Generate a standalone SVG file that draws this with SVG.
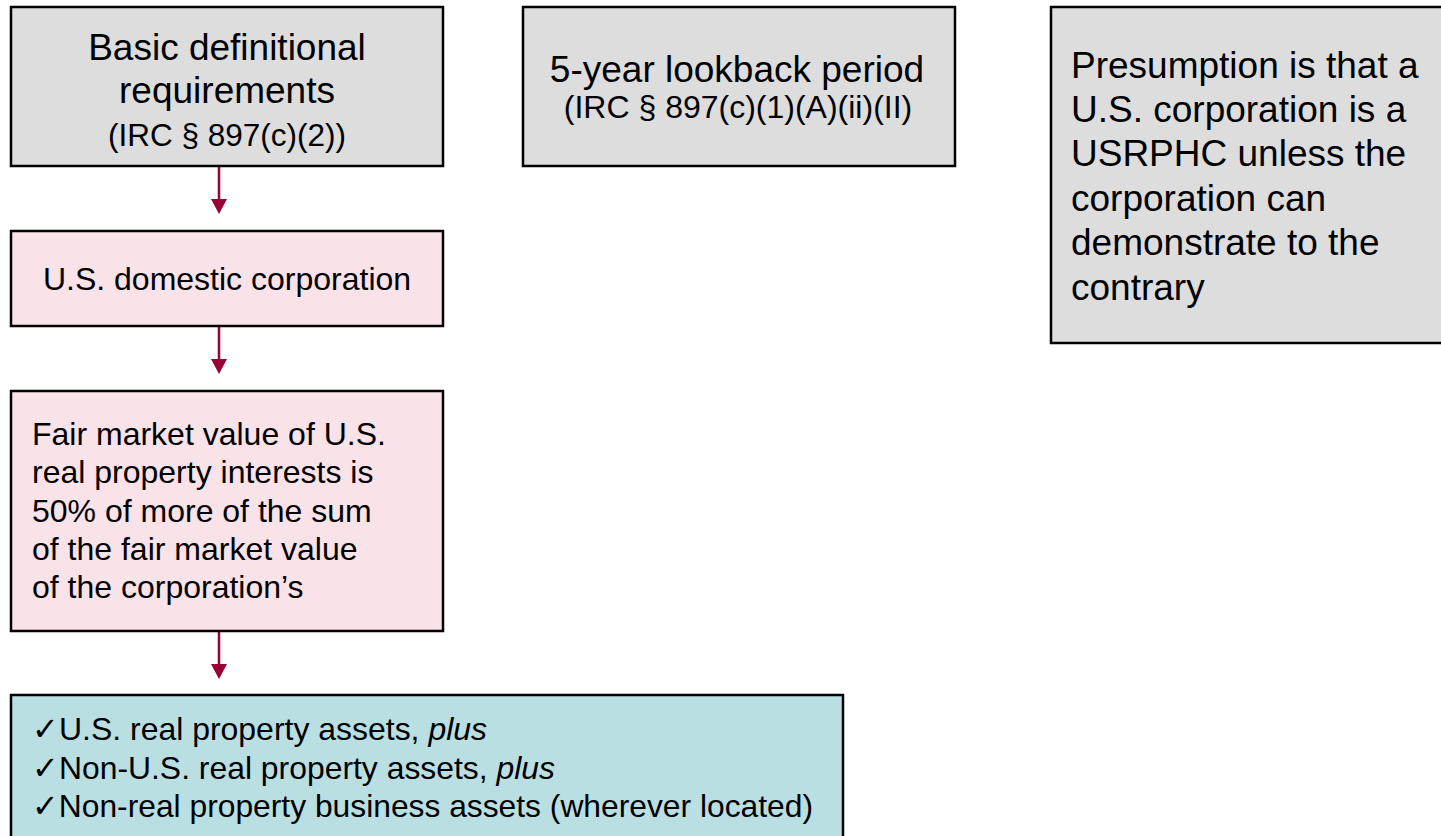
<svg xmlns="http://www.w3.org/2000/svg" width="1441" height="836" viewBox="0 0 1441 836">
<defs>
<style>
.box{stroke:#000;stroke-width:2.5}
.gray{fill:#dddddd}
.pink{fill:#f9e2e8}
.teal{fill:#badfe3}
text{font-family:"Liberation Sans",Arial,sans-serif;fill:#000}
.big{font-size:32px}
.title{font-size:37px}
.small{font-size:32px}
.mid{text-anchor:middle}
.conn{stroke:#990033;stroke-width:2.5;fill:none}
</style>
</defs>
<rect width="1441" height="836" fill="#ffffff"/>
<g id="connectors">
<line class="conn" x1="219" y1="167" x2="219" y2="201"/>
<path d="M211,199 L227,199 L219,214 Z" fill="#990033"/>
<line class="conn" x1="219" y1="327" x2="219" y2="361"/>
<path d="M211,359 L227,359 L219,374 Z" fill="#990033"/>
<line class="conn" x1="219" y1="632" x2="219" y2="666"/>
<path d="M211,664 L227,664 L219,679 Z" fill="#990033"/>
</g>
<g id="basic">
<rect class="box gray" x="11" y="7" width="432" height="159"/>
<text class="title mid" x="227" y="60">Basic definitional</text>
<text class="title mid" x="227" y="103">requirements</text>
<text class="small mid" x="227" y="146" style="font-size:31.5px">(IRC § 897(c)(2))</text>
</g>
<g id="lookback">
<rect class="box gray" x="523" y="7" width="432" height="159"/>
<text class="title mid" x="737" y="82">5-year lookback period</text>
<text class="small mid" x="738" y="118">(IRC § 897(c)(1)(A)(ii)(II)</text>
</g>
<g id="presumption">
<rect class="box gray" x="1051" y="7" width="392" height="336"/>
<text class="title" x="1071" y="78">Presumption is that a</text>
<text class="title" x="1071" y="122">U.S. corporation is a</text>
<text class="title" x="1071" y="166">USRPHC unless the</text>
<text class="title" x="1071" y="211">corporation can</text>
<text class="title" x="1071" y="255">demonstrate to the</text>
<text class="title" x="1071" y="300">contrary</text>
</g>
<g id="domestic">
<rect class="box pink" x="11" y="231" width="432" height="95"/>
<text class="big mid" x="227" y="290">U.S. domestic corporation</text>
</g>
<g id="fmv">
<rect class="box pink" x="11" y="391" width="432" height="240"/>
<text class="big" x="32" y="445">Fair market value of U.S.</text>
<text class="big" x="32" y="483">real property interests is</text>
<text class="big" x="32" y="522">50% of more of the sum</text>
<text class="big" x="32" y="560">of the fair market value</text>
<text class="big" x="32" y="598">of the corporation’s</text>
</g>
<g id="assets">
<rect class="box teal" x="11" y="695" width="832" height="145"/>
<text class="big" x="32" y="740" textLength="455" lengthAdjust="spacingAndGlyphs">✓U.S. real property assets, <tspan font-style="italic">plus</tspan></text>
<text class="big" x="32" y="779" textLength="523" lengthAdjust="spacingAndGlyphs">✓Non-U.S. real property assets, <tspan font-style="italic">plus</tspan></text>
<text class="big" x="32" y="817" textLength="781" lengthAdjust="spacingAndGlyphs">✓Non-real property business assets (wherever located)</text>
</g>
</svg>
